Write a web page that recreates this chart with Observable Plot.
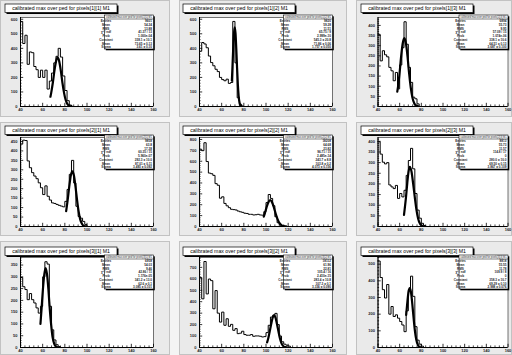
<!DOCTYPE html>
<html><head><meta charset="utf-8">
<script src="https://cdn.jsdelivr.net/npm/d3@7"></script>
<script src="https://cdn.jsdelivr.net/npm/@observablehq/plot@0.6"></script>
<style>
html,body{margin:0;padding:0;background:#f4f4f4;}
#root{position:relative;width:512px;height:355px;overflow:hidden;background:#f4f4f4;}
</style></head><body><div id="root"></div>
<script>
// ---------------- data ----------------
const binStart = 40, binWidth = 2;
const xLo = 40, xHi = 160;
const titlePrefix = "calibrated max over ped for pixels";
const titleSuffix = " M1";
const pixelNames = ["[1][1]","[1][2]","[1][3]","[2][1]","[2][2]","[2][3]","[3][1]","[3][2]","[3][3]"];
const statsLabels = ["Entries","Mean","RMS","\u03C7\u00B2 / ndf","Prob","Constant","Mean","Sigma"];

const counts11 = [585,433,490,290,375,370,275,253,200,250,200,250,120,175,230,300,345,400,340,210,110,40,10,0];
const counts12 = [380,440,430,404,347,302,280,256,240,200,185,177,188,159,165,585,300,60,15,3,0];
const counts13 = [356,225,275,255,245,193,176,127,168,87,205,290,418,307,193,119,46,38,13,0];
const counts21 = [436,457,455,347,311,285,267,253,231,205,169,215,160,140,125,122,117,112,108,104,133,196,276,350,230,107,53,44,27,10,0];
const counts22 = [710,697,770,597,491,485,470,394,379,260,273,212,190,173,158,155,152,142,135,130,122,120,112,112,106,108,112,106,104,136,220,294,258,191,90,35,15,6,0];
const counts23 = [398,340,302,294,300,195,186,178,193,132,155,139,170,240,310,367,271,155,77,39,15,5,0];
const counts31 = [297,258,246,203,229,203,189,168,146,175,300,364,354,175,75,32,12,4,0];
const counts32 = [612,425,751,468,598,584,338,497,300,222,309,194,251,185,202,150,165,121,125,142,113,107,107,113,98,101,101,98,92,95,130,194,266,280,298,200,100,50,29,20,12,0];
const counts33 = [519,420,347,297,378,200,246,186,196,176,156,135,95,220,347,428,307,125,44,20,8,0];

const fitX11 = [67.0,67.7,69.2,70.6,72.1,73.5,74.9,76.4,77.8,79.3,80.7,82.5,84.3,86.1];
const fitY11 = [67,94,165,245,312,338,312,245,165,94,46,15,4,1];
const fitX12 = [69.2,69.7,70.4,71.1,71.8,72.5,73.2,73.9,74.6,75.3,76.2,77.05,77.9];
const fitY12 = [177,265,396,503,545,503,396,265,152,74,24,6,1];
const fitX13 = [57.8,58.4,59.9,61.3,62.8,64.3,65.8,67.3,68.7,70.2,71.7,73.55,75.4,77.25];
const fitY13 = [73,94,164,245,311,337,311,245,164,94,45,15,4,1];
const fitX21 = [81.2,82.6,84.0,85.4,86.8,88.2,89.6,91.0,92.4,93.8,95.55,97.3,99.05];
const fitY21 = [81,142,212,270,292,270,212,142,81,39,13,3,1];
const fitX22 = [98.0,98.9,100.5,102.2,103.8,105.4,107.1,108.7,110.4,112.0,114.05,116.1,118.15];
const fitY22 = [90,118,176,224,243,224,176,118,68,33,11,3,0.5];
const fitX23 = [64.0,65.8,67.0,68.2,69.4,70.9,72.4,74.0,75.5,77.0,78.9,80.8,82.7];
const fitY23 = [55,136,203,258,280,258,203,136,78,38,12,3,0.6];
const fitX31 = [58.0,59.0,60.2,61.5,62.7,63.9,65.2,66.4,67.7,68.9,70.45,72.0,73.55];
const fitY31 = [100,164,245,311,337,311,245,164,94,45,15,4,1];
const fitX32 = [101.0,102.0,103.3,104.7,106.0,107.3,108.6,109.9,111.3,112.6,113.9,115.55,117.2,118.85];
const fitY32 = [45,78,137,205,260,282,260,205,137,78,38,12,3,1];
const fitX33 = [66.0,66.9,68.1,69.3,70.5,71.7,72.9,74.1,75.3,76.8,78.3,79.8];
const fitY33 = [195,259,330,357,330,259,174,99,48,16,4,1];

const yMax  = [612, 612, 439, 471, 818, 418, 382, 786, 540];
const yStep = [100, 100, 50, 50, 100, 50, 50, 100, 100];

const stats11 = ["9601","54.24","13.88","41.37 / 13","1.000e-04","338.1 \u00B1 10.1","73.65 \u00B1 0.13","3.61 \u00B1 0.10"];
const stats12 = ["9820","59.28","11.51","65.75 / 9","2.999e-10","545.3 \u00B1 20.8","71.86 \u00B1 0.06","1.757 \u00B1 0.050"];
const stats13 = ["6894","55.73","9.95","57.09 / 15","1.074e-06","338.1 \u00B1 10.6","64.51 \u00B1 0.13","3.687 \u00B1 0.100"];
const stats21 = ["9858","63.8","17.38","60.35 / 15","5.960e-07","292.3 \u00B1 10.0","87.01 \u00B1 0.11","3.493 \u00B1 0.092"];
const stats22 = ["18208","64.68","23.82","96.71 / 15","2.485e-14","243.7 \u00B1 8.8","103.8 \u00B1 0.2","4.073 \u00B1 0.156"];
const stats23 = ["8813","55.73","11.57","114.8 / 17","0","280.0 \u00B1 10.0","69.50 \u00B1 0.15","3.867 \u00B1 0.109"];
const stats31 = ["6958","54.03","9.46","42.86 / 11","1.176e-05","341.2 \u00B1 13.0","62.6 \u00B1 0.1","3.085 \u00B1 0.101"];
const stats32 = ["18112","61.96","22.81","105.4 / 16","2.410e-15","283.4 \u00B1 10.8","107.3 \u00B1 0.1","3.336 \u00B1 0.090"];
const stats33 = ["8818","55.55","11.78","109.9 / 8","0","358.3 \u00B1 10.7","69.29 \u00B1 0.10","2.988 \u00B1 0.076"];

const panels = [
  {counts: counts11, fitX: fitX11, fitY: fitY11, stats: stats11},
  {counts: counts12, fitX: fitX12, fitY: fitY12, stats: stats12},
  {counts: counts13, fitX: fitX13, fitY: fitY13, stats: stats13},
  {counts: counts21, fitX: fitX21, fitY: fitY21, stats: stats21},
  {counts: counts22, fitX: fitX22, fitY: fitY22, stats: stats22},
  {counts: counts23, fitX: fitX23, fitY: fitY23, stats: stats23},
  {counts: counts31, fitX: fitX31, fitY: fitY31, stats: stats31},
  {counts: counts32, fitX: fitX32, fitY: fitY32, stats: stats32},
  {counts: counts33, fitX: fitX33, fitY: fitY33, stats: stats33}
].map((p, k) => ({...p, name: pixelNames[k], yMax: yMax[k], yStep: yStep[k]}));

// ---------------- layout ----------------
const colGeom = [
  {px0: 0, px1: 170, fx0: 20, fx1: 153, tx: 5},
  {px0: 179, px1: 347, fx0: 199, fx1: 332, tx: 183},
  {px0: 356, px1: 512, fx0: 377.5, fx1: 507.5, tx: 361}
];
const rowGeom = [
  {py0: 0, py1: 117, fy0: 17, fy1: 106, ty: 4},
  {py0: 122, py1: 236, fy0: 137, fy1: 226, ty: 126},
  {py0: 241, py1: 355, fy0: 257, fy1: 347, ty: 247}
];
const FONT = "'Liberation Sans', Arial, Helvetica, sans-serif";
const root = document.getElementById("root");

panels.forEach((p, k) => {
  const r = Math.floor(k / 3), c = k % 3;
  const cg = colGeom[c], rg = rowGeom[r];
  const W = cg.px1 - cg.px0, H = rg.py1 - rg.py0;

  const bins = p.counts.map((v, i) => ({x: binStart + i * binWidth, y: v}));
  const fit = p.fitX.map((x, i) => ({x, y: p.fitY[i]}));

  const nMaj = Math.floor(p.yMax / p.yStep + 1e-9);
  const yMajor = d3.range(0, nMaj + 1).map(i => i * p.yStep);
  const mStep = p.yStep / 5;
  const yMinor = d3.range(0, Math.floor(p.yMax / mStep + 1e-9) + 1)
    .filter(i => i % 5 !== 0).map(i => i * mStep);
  const xMajor = d3.range(0, (xHi - xLo) / 20 + 1).map(i => xLo + i * 20);
  const xMinor = d3.range(0, (xHi - xLo) / 4 + 1).filter(i => i % 5 !== 0).map(i => xLo + i * 4);

  const svg = Plot.plot({
    width: W, height: H,
    marginLeft: cg.fx0 - cg.px0, marginRight: cg.px1 - cg.fx1,
    marginTop: rg.fy0 - rg.py0, marginBottom: rg.py1 - rg.fy1,
    style: {background: "none", fontFamily: FONT, color: "#1c1c28", overflow: "visible"},
    x: {domain: [xLo, xHi], axis: null},
    y: {domain: [0, p.yMax], axis: null},
    marks: [
      Plot.frame({fill: "white", stroke: "#3a3a3a", strokeWidth: 0.7}),
      Plot.line(bins, {x: "x", y: "y", curve: "step-after", stroke: "black", strokeWidth: 1}),
      Plot.line(fit, {x: "x", y: "y", curve: "monotone-x", stroke: "black", strokeWidth: 2.2, clip: true}),
      Plot.ruleY(yMajor, {x1: xLo, x2: xLo, insetRight: -3.2, stroke: "black", strokeWidth: 0.8}),
      Plot.ruleY(yMinor, {x1: xLo, x2: xLo, insetRight: -1.6, stroke: "black", strokeWidth: 0.7}),
      Plot.ruleX(xMajor, {y1: 0, y2: 0, insetTop: -3.2, stroke: "black", strokeWidth: 0.8}),
      Plot.ruleX(xMinor, {y1: 0, y2: 0, insetTop: -1.6, stroke: "black", strokeWidth: 0.7}),
      Plot.ruleX([xLo], {stroke: "black", strokeWidth: 1}),
      Plot.ruleY([0], {stroke: "black", strokeWidth: 1}),
      Plot.axisY(yMajor, {tickSize: 0, tickPadding: 3, fontSize: 4, fontWeight: "bold", label: null, tickFormat: d => String(d)}),
      Plot.axisX(xMajor, {tickSize: 0, tickPadding: 2, fontSize: 4, fontWeight: "bold", label: null, tickFormat: d => String(d)})
    ]
  });
  svg.style.position = "absolute";
  svg.style.left = cg.px0 + "px";
  svg.style.top = rg.py0 + "px";
  root.appendChild(svg);

  const s = d3.select(svg);
  // pad background
  s.insert("rect", ":first-child")
    .attr("x", 0.5).attr("y", 0.5).attr("width", W - 1).attr("height", H - 1)
    .attr("fill", "#eaeaea").attr("stroke", "#c2c2c2").attr("stroke-width", 1);
  s.select("rect[fill='#eaeaea']");

  // title box
  const tx = cg.tx - cg.px0, ty = rg.ty - rg.py0, tw = 112, th = 8.5;
  const tg = s.append("g");
  tg.append("rect").attr("x", tx + 1.5).attr("y", ty + 1.5).attr("width", tw).attr("height", th).attr("fill", "black");
  tg.append("rect").attr("x", tx).attr("y", ty).attr("width", tw).attr("height", th)
    .attr("fill", "white").attr("stroke", "black").attr("stroke-width", 0.7);
  tg.append("text").attr("x", tx + tw / 2).attr("y", ty + th / 2 + 1.8)
    .attr("text-anchor", "middle").attr("font-size", 5.2).attr("font-family", FONT)
    .attr("fill", "black").text(titlePrefix + p.name + titleSuffix);

  // stats box
  const bw = 49, bh = 34;
  const bx = cg.fx1 - cg.px0 - bw + 0.5, by = rg.fy0 - rg.py0 - 2;
  const g = s.append("g").attr("font-family", FONT);
  g.append("rect").attr("x", bx + 1.3).attr("y", by + 1.3).attr("width", bw).attr("height", bh).attr("fill", "black");
  g.append("rect").attr("x", bx).attr("y", by).attr("width", bw).attr("height", bh)
    .attr("fill", "white").attr("stroke", "black").attr("stroke-width", 0.6);
  g.append("text").attr("x", bx + bw / 2).attr("y", by + 3.1).attr("text-anchor", "middle")
    .attr("font-size", 2.7).attr("textLength", bw - 3).attr("lengthAdjust", "spacingAndGlyphs")
    .text(titlePrefix + p.name + titleSuffix);
  g.append("line").attr("x1", bx).attr("x2", bx + bw).attr("y1", by + 4).attr("y2", by + 4)
    .attr("stroke", "black").attr("stroke-width", 0.5);
  const rowH = (bh - 4.5) / statsLabels.length;
  statsLabels.forEach((lab, i) => {
    const yy = by + 4.5 + rowH * (i + 0.78);
    g.append("text").attr("x", bx + 1.5).attr("y", yy).attr("font-size", 3.1).attr("font-weight", "bold").text(lab);
    g.append("text").attr("x", bx + bw - 1.5).attr("y", yy).attr("font-size", 3.1).attr("font-weight", "bold")
      .attr("text-anchor", "end").text(p.stats[i]);
  });
});
</script></body></html>
